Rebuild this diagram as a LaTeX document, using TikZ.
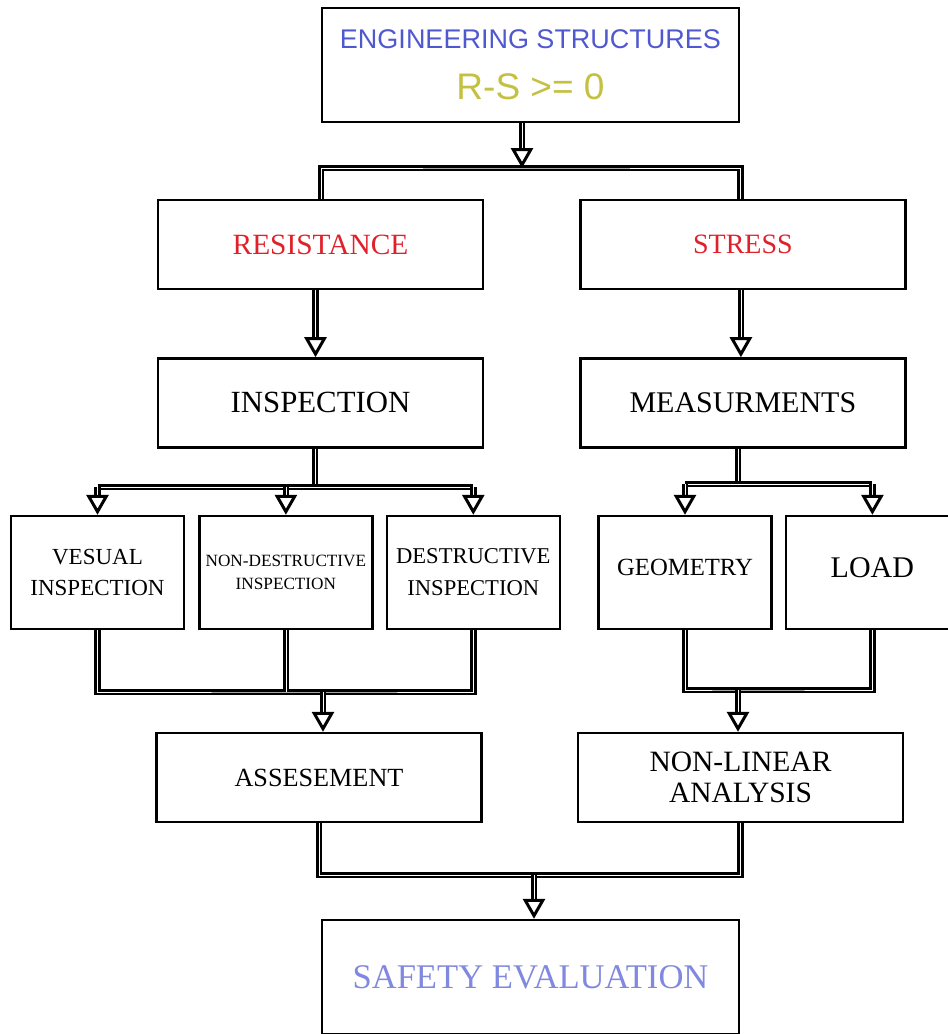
\documentclass[tikz,border=0pt]{standalone}
\usepackage{fontspec}
\setmainfont{Liberation Serif}
\newfontfamily\headfont{Liberation Sans}
\usepackage{xcolor}
\usetikzlibrary{positioning}
\usetikzlibrary{arrows.meta}
\definecolor{headblue}{HTML}{5058D0}
\definecolor{formula}{HTML}{C4C040}
\definecolor{keyred}{HTML}{E0202A}
\definecolor{evalblue}{HTML}{8088E0}
\newcommand{\boxfont}[2]{\fontsize{#1}{#2}\selectfont}
\tikzset{
  block/.style={draw, line width=2.4pt, minimum width=325pt, minimum height=89pt,
    align=center, inner sep=2pt, font=\boxfont{29}{33}},
  small block/.style={block, minimum width=173pt, minimum height=113pt,
    font=\boxfont{23}{31}},
  link/.style={line width=3pt, double=white, double distance=0.6pt},
  arrow link/.style={link, -{Triangle[open, length=20pt, width=22pt]}},
}

\begin{document}
\begin{tikzpicture}[x=1pt, y=-1pt]
  \useasboundingbox (0,0) rectangle (948,1034);

  % Define nodes
  \node[block, minimum width=417pt, minimum height=114pt, font=\headfont] (eng) at (530.5,65)
    {{\boxfont{27}{30}\color{headblue}ENGINEERING STRUCTURES}\\[24pt]
     {\boxfont{37}{40}\color{formula}R-S >= 0}};

  \node[block, text=keyred, font=\boxfont{29.4}{33}] (res) at (320.5,244.5) {RESISTANCE};
  \node[block, text=keyred, font=\boxfont{28}{33}, right=95pt of res] (stress) {STRESS};

  \node[block, font=\boxfont{30.8}{33}, below=67pt of res] (insp) {INSPECTION};
  \node[block, font=\boxfont{30}{33}, below=67pt of stress] (meas) {MEASURMENTS};

  \node[small block] (vis) at (97.5,572.5) {VESUAL\\INSPECTION};
  \node[small block, right=13pt of vis, font=\boxfont{17.2}{23}] (ndt) {NON-DESTRUCTIVE\\INSPECTION};
  \node[small block, right=12pt of ndt, font=\boxfont{22.6}{32}] (dt) {DESTRUCTIVE\\INSPECTION};

  \node[small block, font=\boxfont{24.7}{10}] (geo) at (685,572.5) {GEOMETRY\\[0pt]};
  \node[small block, right=12pt of geo, font=\boxfont{30}{10}] (load) {LOAD\\[0pt]};

  \node[block, font=\boxfont{26.2}{33}] (assess) at (319,777.5) {ASSESEMENT};
  \node[block, font=\boxfont{29.5}{31}] (nla) at (740.5,777.5) {NON-LINEAR\\ANALYSIS};

  \node[block, minimum width=417pt, minimum height=114pt, text=evalblue,
    font=\boxfont{34.6}{38}] (safety) at (530.5,977) {SAFETY EVALUATION};

  % Junctions
  \coordinate (split0) at (522,168);
  \coordinate (split1) at (315,487);
  \coordinate (split2) at (738,484);
  \coordinate (merge1) at (323,692);
  \coordinate (merge2) at (738,690);
  \coordinate (merge3) at (534,875);

  % Connect nodes
  \draw[arrow link] (eng.south -| split0) -- (split0);
  \draw[link] (res.north -| eng.south west) |- (split0) -| (stress.north -| eng.south east);

  \draw[arrow link] ([xshift=-5pt]res.south) -- ([xshift=-5pt]insp.north);
  \draw[arrow link] ([xshift=-2pt]stress.south) -- ([xshift=-2pt]meas.north);

  \draw[link] (insp.south -| split1) -- (split1);
  \draw[link] (split1 -| vis) -- (split1 -| dt);
  \foreach \n in {vis, ndt, dt}
    \draw[arrow link] (split1 -| \n.north) -- (\n.north);

  \draw[link] (meas.south -| split2) -- (split2);
  \draw[link] (split2 -| geo) -- (split2 -| load);
  \foreach \n in {geo, load}
    \draw[arrow link] (split2 -| \n.north) -- (\n.north);

  \draw[link] (vis.south) |- (merge1) -| (dt.south);
  \draw[link] (ndt.south) -- (ndt.south |- merge1);
  \draw[arrow link] (merge1) -- (assess.north -| merge1);

  \draw[link] (geo.south) |- (merge2) -| (load.south);
  \draw[arrow link] (merge2) -- (nla.north -| merge2);

  \draw[link] (assess.south) |- (merge3) -| (nla.south);
  \draw[arrow link] (merge3) -- (safety.north -| merge3);

\end{tikzpicture}
\end{document}
